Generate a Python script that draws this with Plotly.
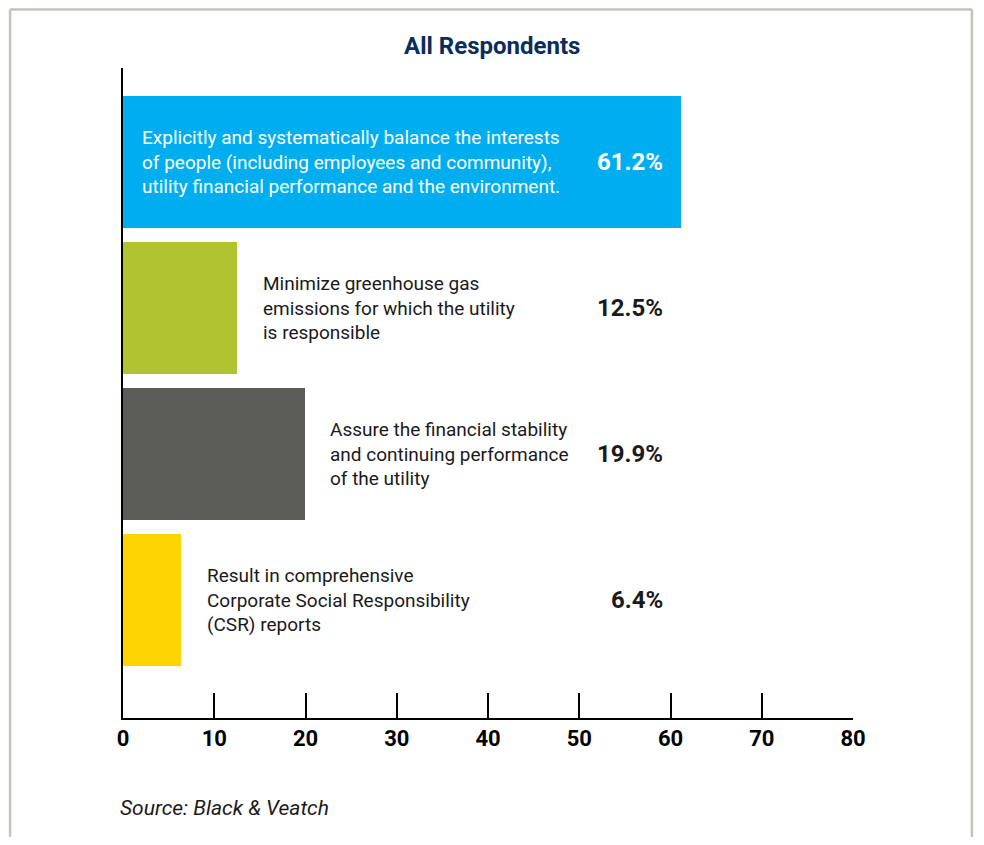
"""Bar chart: All Respondents priorities (Black & Veatch survey)."""
import plotly.graph_objects as go

# data
categories = [
    "Explicitly and systematically balance the interests<br>"
    "of people (including employees and community),<br>"
    "utility financial performance and the environment.",
    "Minimize greenhouse gas<br>emissions for which the utility<br>is responsible",
    "Assure the financial stability<br>and continuing performance<br>of the utility",
    "Result in comprehensive<br>Corporate Social Responsibility<br>(CSR) reports",
]
values = [61.2, 12.5, 19.9, 6.4]
bar_colors = ["#00AEEF", "#AFC430", "#5C5D59", "#FFD400"]
x_ticks = [0, 10, 20, 30, 40, 50, 60, 70, 80]

FONT = "Roboto"
TEXT_DARK = "#1a1a1a"

# the page body adds an 8px margin, so the figure is a bit smaller than the window
W, H = 976, 829
L, R, T, B = 114.5, 131, 60, 119
plot_w = W - L - R
plot_h = H - T - B
PAGE_LEFT = 8 + L   # plot left edge in page pixels
PAGE_BOTTOM = 8 + H - B


def px_x(page_x):
    return (page_x - PAGE_LEFT) / plot_w


def px_y(page_y):
    return (PAGE_BOTTOM - page_y) / plot_h


fig = go.Figure()
fig.add_trace(go.Bar(
    x=values,
    y=list(range(len(values))),
    orientation="h",
    marker=dict(color=bar_colors, line=dict(width=0)),
    width=0.904,
    hoverinfo="skip",
))

# descriptive labels beside / inside each bar, and the percentages
for i, (label, v) in enumerate(zip(categories, values)):
    inside = i == 0
    fig.add_annotation(
        x=1.9 if inside else v + 2.6, y=i, xref="x", yref="y",
        text=label, showarrow=False, align="left",
        xanchor="left", yanchor="middle",
        font=dict(family=FONT, size=19, color="white" if inside else TEXT_DARK),
    )
    fig.add_annotation(
        x=59.4, y=i, xref="x", yref="y",
        text=f"<b>{v:.1f}%</b>", showarrow=False,
        xanchor="right", yanchor="middle",
        font=dict(family=FONT, size=24, color="white" if inside else TEXT_DARK),
    )

fig.add_annotation(
    x=px_x(492), y=px_y(46), xref="paper", yref="paper",
    xanchor="center", yanchor="middle",
    text="<b>All Respondents</b>", showarrow=False,
    font=dict(family=FONT, size=24, color="#0B2D5B"),
)

# source note
fig.add_annotation(
    x=px_x(117), y=px_y(808), xref="paper", yref="paper",
    xanchor="left", yanchor="middle",
    text="<i>Source: Black & Veatch</i>", showarrow=False,
    font=dict(family=FONT, size=21, color=TEXT_DARK),
)

# light grey frame around the graphic (open at the bottom)
frame = dict(type="line", xref="paper", yref="paper",
             line=dict(color="#C4C4BC", width=2.5), layer="below")
fig.add_shape(x0=px_x(9.5), x1=px_x(9.5), y0=px_y(870), y1=px_y(9.5), **frame)
fig.add_shape(x0=px_x(9.5), x1=px_x(972), y0=px_y(9.5), y1=px_y(9.5), **frame)
fig.add_shape(x0=px_x(972), x1=px_x(972), y0=px_y(870), y1=px_y(9.5), **frame)

fig.update_layout(
    width=W, height=H,
    margin=dict(l=L, r=R, t=T, b=B, autoexpand=False),
    paper_bgcolor="white", plot_bgcolor="white",
    showlegend=False,
    bargap=0,
    xaxis=dict(
        range=[0, 80], tickvals=x_ticks, ticks="inside", ticklen=25,
        tickwidth=2, tickcolor="black", showline=True, linecolor="black",
        linewidth=2, showgrid=False, zeroline=False,
        tickfont=dict(family=FONT, size=22, color="black", weight="bold"),
    ),
    yaxis=dict(
        range=[3.808, -0.644], showticklabels=False, ticks="",
        showline=True, linecolor="black", linewidth=2,
        showgrid=False, zeroline=False,
    ),
)

fig.write_html("out.html")
